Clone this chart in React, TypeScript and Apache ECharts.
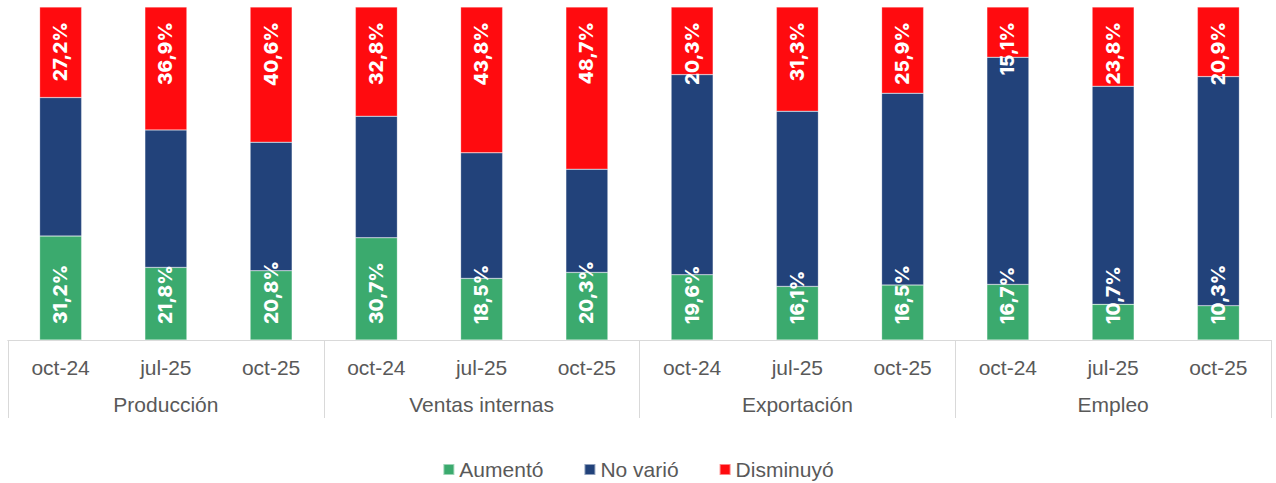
import React, { useEffect, useRef } from "react";
import * as echarts from "echarts";

const periods = ["oct-24", "jul-25", "oct-25", "oct-24", "jul-25", "oct-25", "oct-24", "jul-25", "oct-25", "oct-24", "jul-25", "oct-25"];
const groups = ["Producción", "Ventas internas", "Exportación", "Empleo"];
const aumento = [31.2, 21.8, 20.8, 30.7, 18.5, 20.3, 19.6, 16.1, 16.5, 16.7, 10.7, 10.3];
const noVario = [41.6, 41.3, 38.6, 36.5, 37.7, 31.0, 60.1, 52.6, 57.6, 68.2, 65.5, 68.8];
const disminuyo = [27.2, 36.9, 40.6, 32.8, 43.8, 48.7, 20.3, 31.3, 25.9, 15.1, 23.8, 20.9];

const fmt = (v: number) => v.toFixed(1).replace(".", ",") + "%";

export default function App() {
  const ref = useRef<HTMLDivElement>(null);
  useEffect(() => {
    if (!ref.current) return;
    const chart = echarts.init(ref.current, null, { renderer: "svg" });
    const labelBase = {
      show: true,
      rotate: 90,
      color: "#ffffff",
      fontFamily: "Inter",
      fontWeight: 800 as any,
      fontSize: 19,
      verticalAlign: "middle" as const,
      formatter: (p: any) => fmt(p.value),
    };
    chart.setOption({
      animation: false,
      grid: { left: 8, right: 5, top: 7, bottom: 143, containLabel: false },
      legend: {
        top: 454,
        left: "center",
        itemWidth: 11,
        itemHeight: 11,
        itemGap: 40,
        icon: "rect",
        textStyle: { fontFamily: "Liberation Sans", fontSize: 21, color: "#595959" },
        data: ["Aumentó", "No varió", "Disminuyó"],
      },
      xAxis: [
        {
          type: "category",
          data: periods,
          position: "bottom",
          axisLine: { show: true, lineStyle: { color: "#d9d9d9", width: 1 } },
          axisTick: { show: false },
          axisLabel: { margin: 17, fontFamily: "Liberation Sans", fontSize: 21, color: "#595959" },
        },
        {
          type: "category",
          data: groups,
          position: "bottom",
          axisLine: { show: true, lineStyle: { color: "#d9d9d9", width: 1 } },
          axisTick: { show: true, length: 78, lineStyle: { color: "#d9d9d9", width: 1 } },
          axisLabel: { margin: 54, fontFamily: "Liberation Sans", fontSize: 21, color: "#595959" },
        },
      ],
      yAxis: { type: "value", min: 0, max: 100, show: false, splitLine: { show: false } },
      series: [
        {
          name: "Aumentó",
          type: "bar",
          stack: "t",
          barWidth: 42,
          data: aumento,
          itemStyle: { color: "#3BAA6E", borderColor: "rgba(255,255,255,0.5)", borderWidth: 0.5 },
          label: { ...labelBase, position: "insideBottom", distance: 16, align: "left" },
        },
        {
          name: "No varió",
          type: "bar",
          stack: "t",
          barWidth: 42,
          data: noVario,
          itemStyle: { color: "#22427A", borderColor: "rgba(255,255,255,0.5)", borderWidth: 0.5 },
          label: { show: false },
        },
        {
          name: "Disminuyó",
          type: "bar",
          stack: "t",
          barWidth: 42,
          data: disminuyo,
          itemStyle: { color: "#FF0B0F", borderColor: "rgba(255,255,255,0.5)", borderWidth: 0.5 },
          label: { ...labelBase, position: "insideTop", distance: 15, align: "right" },
        },
      ],
    });
    return () => chart.dispose();
  }, []);
  return <div ref={ref} style={{ position: "fixed", left: 0, top: 0, width: 1276, height: 483, background: "#fff" }} />;
}
